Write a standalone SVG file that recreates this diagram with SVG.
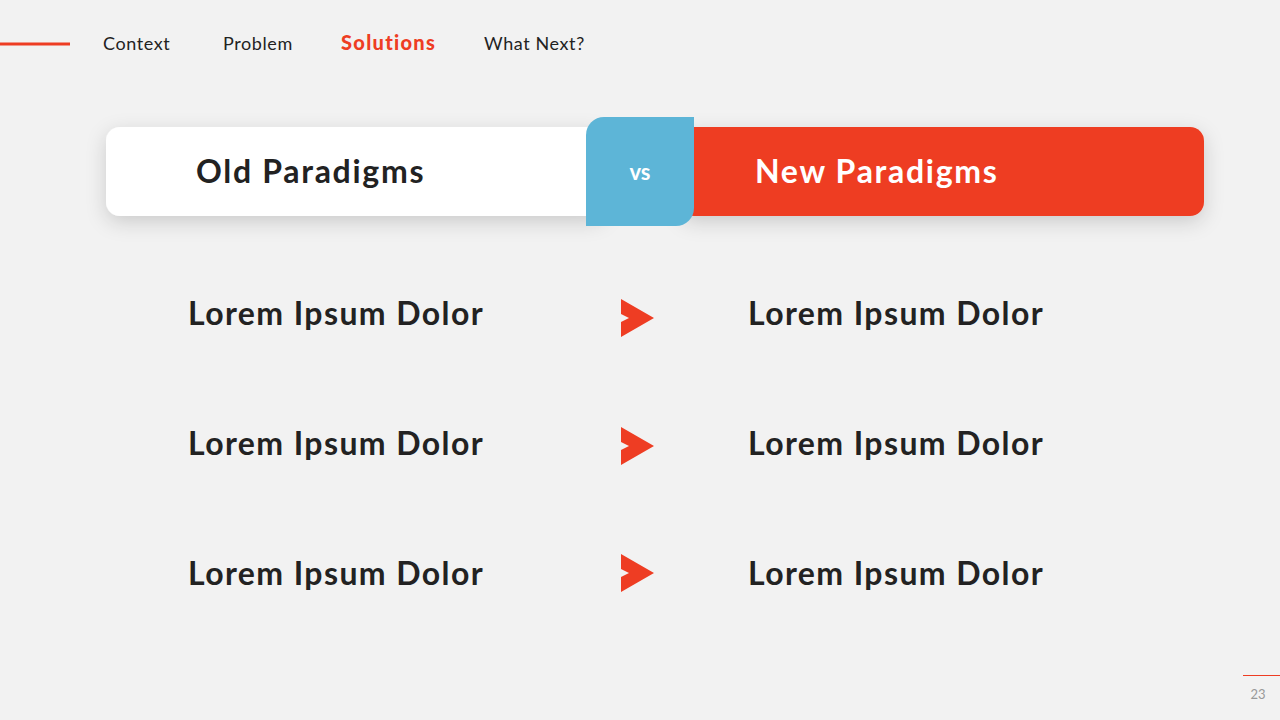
<svg xmlns="http://www.w3.org/2000/svg" width="1280" height="720" viewBox="0 0 1280 720">
<defs>
<filter id="sh" x="-10%" y="-40%" width="120%" height="190%">
<feDropShadow dx="0" dy="6" stdDeviation="10" flood-color="#000" flood-opacity="0.16"/>
</filter>
<style>
.nav{font-family:Lato,"Open Sans",sans-serif;font-size:18px;fill:#222;letter-spacing:0.6px}
.navA{font-family:Lato,"Open Sans",sans-serif;font-size:20px;font-weight:900;fill:#EE3D23;letter-spacing:1.3px}
.hd{font-family:Lato,"Open Sans",sans-serif;font-size:32px;font-weight:bold;letter-spacing:1.7px}
.it{font-family:Lato,"Open Sans",sans-serif;font-size:32px;font-weight:bold;fill:#222;letter-spacing:1.4px}
.arr{fill:#EE3D23}
</style>
</defs>
<rect width="1280" height="720" fill="#F2F2F2"/>
<g id="nav">
<line x1="0" y1="44" x2="70" y2="44" stroke="#EE3D23" stroke-width="3"/>
<text class="nav" x="103" y="50">Context</text>
<text class="nav" x="223" y="50">Problem</text>
<text class="navA" x="341" y="50">Solutions</text>
<text class="nav" x="484" y="50">What Next?</text>
</g>
<g id="old-card">
<rect x="106" y="127" width="500" height="89" rx="14" fill="#FFFFFF" filter="url(#sh)"/>
<text class="hd" x="196" y="183" fill="#222">Old Paradigms</text>
</g>
<g id="new-card">
<rect x="680" y="127" width="524" height="89" rx="14" fill="#EE3D23" filter="url(#sh)"/>
<text class="hd" x="755" y="183" fill="#FFFFFF">New Paradigms</text>
</g>
<g id="vs">
<path d="M604,117 H694 V208 A18,18 0 0 1 676,226 H586 V135 A18,18 0 0 1 604,117 Z" fill="#5DB5D7"/>
<text x="640" y="180" text-anchor="middle" font-family="Lato,'Open Sans',sans-serif" font-size="22" font-weight="bold" fill="#FFFFFF">vs</text>
</g>
<g id="rows">
<text class="it" x="188" y="325">Lorem Ipsum Dolor</text>
<text class="it" x="748" y="325">Lorem Ipsum Dolor</text>
<text class="it" x="188" y="455">Lorem Ipsum Dolor</text>
<text class="it" x="748" y="455">Lorem Ipsum Dolor</text>
<text class="it" x="188" y="585">Lorem Ipsum Dolor</text>
<text class="it" x="748" y="585">Lorem Ipsum Dolor</text>
</g>
<g id="connectors">
<polygon class="arr" points="621,299 654,318 621,337 621,322 629,318 621,314"/>
<polygon class="arr" points="621,427 654,446 621,465 621,450 629,446 621,442"/>
<polygon class="arr" points="621,554 654,573 621,592 621,577 629,573 621,569"/>
</g>
<g id="page">
<line x1="1243" y1="675.5" x2="1280" y2="675.5" stroke="#EE3D23" stroke-width="1"/>
<text x="1258" y="699" text-anchor="middle" font-family="Lato,'Open Sans',sans-serif" font-size="13" fill="#999">23</text>
</g>
</svg>
